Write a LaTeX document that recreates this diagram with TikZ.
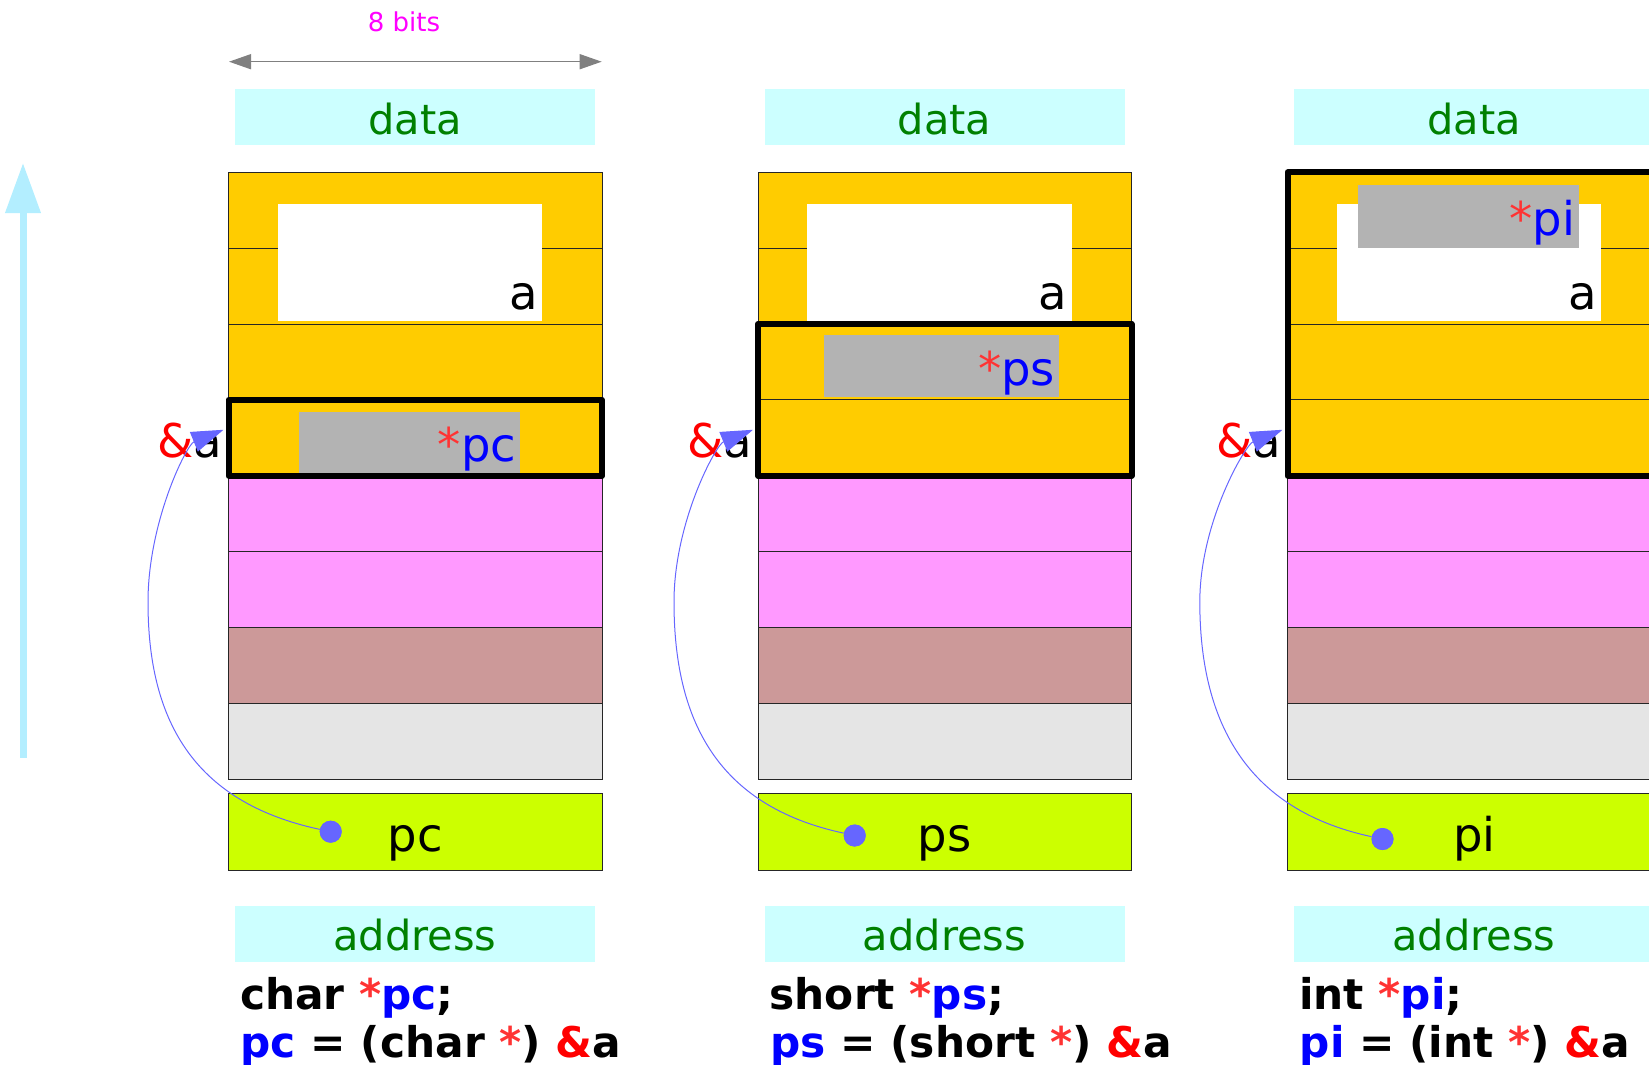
\documentclass[tikz,border=0pt]{standalone}
\usepackage{fontspec}
\setmainfont{DejaVu Sans}
\usetikzlibrary{arrows.meta,calc}

\definecolor{cellyellow}{HTML}{FFCC00}
\definecolor{cellpink}{HTML}{FF99FF}
\definecolor{cellrose}{HTML}{CC9999}
\definecolor{cellgrey}{HTML}{E5E5E5}
\definecolor{ptrgreen}{HTML}{CCFF00}
\definecolor{headcyan}{HTML}{CCFFFF}
\definecolor{labelgreen}{HTML}{008000}
\definecolor{ptrblue}{HTML}{6666FF}
\definecolor{derefgrey}{HTML}{B3B3B3}
\definecolor{starred}{HTML}{FF3333}
\definecolor{axiscyan}{HTML}{B3EEFF}
\definecolor{bitsmagenta}{HTML}{FF00FF}

\begin{document}
\begin{tikzpicture}[x=1pt,y=-1pt,
  cell/.style={draw=black!85, line width=0.9pt, minimum width=373.5pt,
    minimum height=75.85pt, inner sep=0pt, outer sep=0pt, anchor=north west},
  holder/.style={fill=white, minimum width=264.3pt, minimum height=117.3pt,
    inner sep=0pt, anchor=north west},
  deref/.style={fill=derefgrey, inner sep=0pt, anchor=north west},
  lbl/.style={inner sep=0pt, font=\fontsize{46.5}{55}\selectfont},
  sel/.style={draw=black, line width=6pt, line join=round},
  ptrbox/.style={fill=ptrgreen, draw=black!85, line width=0.9pt,
    minimum width=373.5pt, minimum height=77pt, inner sep=0pt,
    text height=39pt, text depth=0pt, font=\fontsize{46.5}{55}\selectfont},
  head/.style={fill=headcyan, minimum width=360pt, minimum height=55.7pt,
    inner sep=0pt, text height=34pt, text depth=0pt, text=labelgreen,
    font=\fontsize{41.5}{50}\selectfont},
  code/.style={inner sep=0pt, anchor=base west,
    font=\fontsize{42.3}{48}\selectfont\bfseries},
  dotmark/.style={circle, fill=ptrblue, minimum size=22pt, inner sep=0pt},
  ptr/.style={draw=ptrblue, line width=1pt,
    -{Triangle[length=32pt,width=21pt]}},
]
\useasboundingbox (0,0) rectangle (1649,1065);
\clip (0,0) rectangle (1649,1065);

% width of one byte
\node[inner sep=0pt, anchor=base, text=bitsmagenta,
  font=\fontsize{26}{30}\selectfont] (bits) at (404,32) {8 bits};
\coordinate (bitsL) at (229,61.7);
\coordinate (bitsR) at (601.7,61.7);
\draw[gray, line width=1.5pt,
  {Triangle[length=22pt,width=15pt]}-{Triangle[length=22pt,width=15pt]}]
  (bitsL) -- (bitsR);

% growing addresses
\coordinate (axisfoot) at (23,758);
\coordinate (axistip) at (23,163);
\draw[axiscyan, line width=7pt, -{Triangle[length=50pt,width=34pt]}]
  (axisfoot) -- (axistip);

% memory cells, the variable a and its label, per column
\foreach \k [evaluate=\k as \sh using (\k-1)*529.5] in {1,2,3} {
  \foreach \r/\c in {0/cellyellow,1/cellyellow,2/cellyellow,3/cellyellow,
                     4/cellpink,5/cellpink,6/cellrose,7/cellgrey}
    \node[cell, fill=\c] (cell\k-\r) at (228.5+\sh,172.3+75.85*\r) {};
  \node[holder] (var\k) at (277.7+\sh,203.7) {};
  \node[lbl, anchor=base east, xshift=-4.5pt, yshift=12pt] (varname\k)
    at (var\k.south east) {a};
}

% dereferenced objects
\node[deref, minimum width=221pt, minimum height=61pt] (deref1) at (299,412) {};
\node[lbl, anchor=base east, xshift=-4pt, yshift=12pt] (derefname1)
  at (deref1.south east) {\textcolor{starred}{*}\textcolor{blue}{pc}};
\node[deref, minimum width=235.3pt, minimum height=62.4pt] (deref2) at (823.7,334.3) {};
\node[lbl, anchor=base east, xshift=-4pt, yshift=12pt] (derefname2)
  at (deref2.south east) {\textcolor{starred}{*}\textcolor{blue}{ps}};
\node[deref, minimum width=221pt, minimum height=62.3pt] (deref3) at (1358,185) {};
\node[lbl, anchor=base east, xshift=-4pt, yshift=12pt] (derefname3)
  at (deref3.south east) {\textcolor{starred}{*}\textcolor{blue}{pi}};

% bytes reached through each pointer
\draw[sel] (cell1-3.north west) rectangle (cell1-3.south east);
\draw[sel] (cell2-2.north west) rectangle (cell2-3.south east);
\draw[sel] (cell3-0.north west) rectangle (cell3-3.south east);

% pointer variables, headers and the &a links
\foreach \k/\p/\dx/\dy/\lx [evaluate=\k as \sh using (\k-1)*529.5]
    in {1/pc/102.2/831.7/80.5, 2/ps/96.7/835.5/84, 3/pi/95/839/87.7} {
  \node[ptrbox] (ptr\k) at (415.25+\sh,831.5) {\p};
  \node[head] (data\k) at (415+\sh,117.15) {data};
  \node[head] (addr\k) at (415+\sh,933.85) {address};
  \node[lbl, anchor=base east] (ref\k) at (222.5+\sh,457.3)
    {\textcolor{red}{\&}a};
  \node[dotmark] (dot\k) at (228.5+\sh+\dx,\dy) {};
  \coordinate (bend\k) at (228.5+\sh-\lx,602);
  \coordinate (tip\k) at ([xshift=-5pt,yshift=8pt]cell\k-3.west);
  \draw[ptr] (dot\k) .. controls +(-140,-30) and +(0,115) .. (bend\k)
    .. controls +(0,-80) and +(-37,15) .. (tip\k);
  \node[dotmark] at (dot\k) {};
}

% declarations
\node[code] (decl1) at (240,1009)
  {char \textcolor{starred}{*}\textcolor{blue}{pc};};
\node[code] (cast1) at (240.5,1057)
  {\textcolor{blue}{pc} = (char \textcolor{starred}{*}) \textcolor{red}{\&}a};
\node[code] (decl2) at (769.5,1009)
  {short \textcolor{starred}{*}\textcolor{blue}{ps};};
\node[code] (cast2) at (770,1057)
  {\textcolor{blue}{ps} = (short \textcolor{starred}{*}) \textcolor{red}{\&}a};
\node[code] (decl3) at (1299,1009)
  {int \textcolor{starred}{*}\textcolor{blue}{pi};};
\node[code] (cast3) at (1299.5,1057)
  {\textcolor{blue}{pi} = (int \textcolor{starred}{*}) \textcolor{red}{\&}a};
\end{tikzpicture}
\end{document}
